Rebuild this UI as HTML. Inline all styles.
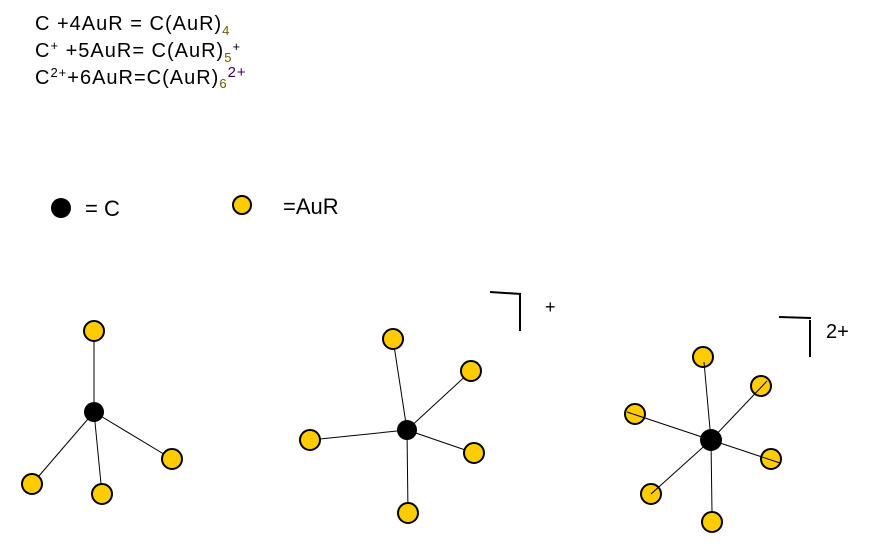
<!DOCTYPE html>
<html><head><style>
body{margin:0;background:#fff;width:880px;height:557px;overflow:hidden;font-family:"Liberation Sans",sans-serif;}
svg{position:absolute;left:0;top:0}
</style></head><body>
<svg width="880" height="557" xmlns="http://www.w3.org/2000/svg" font-family="Liberation Sans, sans-serif">
<g font-size="20" fill="#000" letter-spacing="1">
<text x="35" y="30">C +4AuR = C(AuR)<tspan font-size="13" dy="5" fill="#6b5a00">4</tspan></text>
<text x="35" y="57">C<tspan font-size="13" dy="-7">+</tspan><tspan dy="7"> +5AuR= C(AuR)</tspan><tspan font-size="13" dy="5" fill="#6b5a00">5</tspan><tspan font-size="13" dy="-11">+</tspan></text>
<text x="35" y="84">C<tspan font-size="13" dy="-7">2+</tspan><tspan dy="7">+6AuR=C(AuR)</tspan><tspan font-size="13" dy="4" fill="#6b5a00">6</tspan><tspan font-size="15" dy="-11" fill="#3a0050">2+</tspan></text>
</g>
<circle cx="61" cy="208" r="10" fill="#000"/>
<text x="85" y="216" font-size="22">= C</text>
<circle cx="242" cy="205" r="9" fill="#FFCC00" stroke="#000" stroke-width="2"/>
<text x="283" y="214" font-size="22">=AuR</text>
<g stroke="#000" stroke-width="1">
<line x1="94" y1="412" x2="94" y2="331"/><line x1="94" y1="412" x2="32" y2="484"/><line x1="94" y1="412" x2="102" y2="494"/><line x1="94" y1="412" x2="172" y2="459"/>
<line x1="407" y1="430" x2="393" y2="339"/><line x1="407" y1="430" x2="471" y2="371"/><line x1="407" y1="430" x2="310" y2="440"/><line x1="407" y1="430" x2="474" y2="453"/><line x1="407" y1="430" x2="408" y2="513"/>
</g>
<g fill="#FFCC00" stroke="#000" stroke-width="2">
<circle cx="94" cy="331" r="10"/><circle cx="32" cy="484" r="10"/><circle cx="102" cy="494" r="10"/><circle cx="172" cy="459" r="10"/>
<circle cx="393" cy="339" r="10"/><circle cx="471" cy="371" r="10"/><circle cx="310" cy="440" r="10"/><circle cx="474" cy="453" r="10"/><circle cx="408" cy="513" r="10"/>
<circle cx="703" cy="357" r="10"/><circle cx="761" cy="386" r="10"/><circle cx="635" cy="414" r="10"/><circle cx="771" cy="459" r="10"/><circle cx="651" cy="494" r="10"/><circle cx="712" cy="522" r="10"/>
</g>
<g stroke="#000" stroke-width="1">
<line x1="711" y1="440" x2="704" y2="362"/><line x1="711" y1="440" x2="767" y2="381"/><line x1="711" y1="440" x2="627" y2="412"/><line x1="711" y1="440" x2="780" y2="463"/><line x1="711" y1="440" x2="651" y2="494"/><line x1="711" y1="440" x2="712" y2="512"/>
</g>
<circle cx="94" cy="412" r="10" fill="#000"/>
<circle cx="407" cy="430" r="10" fill="#000"/>
<circle cx="711" cy="440" r="11" fill="#000"/>
<g stroke="#000" stroke-width="2" fill="none">
<line x1="490" y1="292" x2="521" y2="294"/><line x1="520" y1="294" x2="520" y2="331"/>
<line x1="779" y1="317" x2="811" y2="318"/><line x1="810" y1="320" x2="810" y2="357"/>
</g>
<text x="545" y="313" font-size="18">+</text>
<text x="826" y="338" font-size="20">2+</text>
</svg>
</body></html>
